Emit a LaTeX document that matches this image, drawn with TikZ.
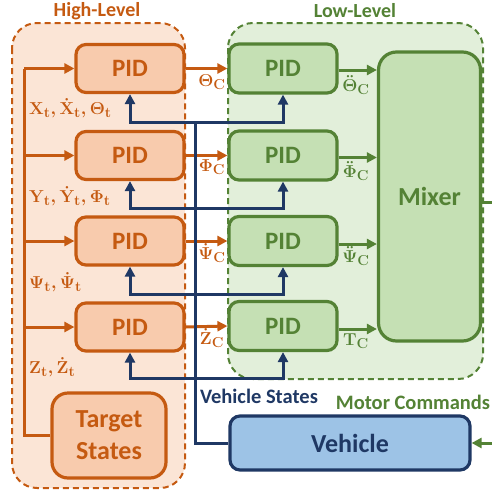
\documentclass[tikz,border=0pt]{standalone}
\usepackage{fontspec}
\setmainfont{Carlito}
\usetikzlibrary{arrows.meta}
\DeclareMathSizes{17}{17}{14}{11}
\DeclareMathSizes{18}{18}{15.5}{12}
\definecolor{ora}{HTML}{C55A11}
\definecolor{orafill}{HTML}{F8CBAD}
\definecolor{oragrp}{HTML}{FBE5D6}
\definecolor{grn}{HTML}{548235}
\definecolor{grnfill}{HTML}{C5E0B4}
\definecolor{grngrp}{HTML}{E2EFDA}
\definecolor{nav}{HTML}{1F3864}
\definecolor{blufill}{HTML}{9DC3E6}
\newcommand{\mlab}[1]{{\boldmath$\mathbf{#1}$}}
\tikzset{
  boxfont/.style={font=\bfseries\fontsize{25}{27}\selectfont},
  obox/.style={draw=ora,fill=orafill,line width=3.2pt,rounded corners=10pt,text=ora,boxfont,inner sep=0pt},
  gbox/.style={draw=grn,fill=grnfill,line width=3.2pt,rounded corners=10pt,text=grn,boxfont,inner sep=0pt},
  oline/.style={draw=ora,line width=3pt},
  oarrow/.style={oline,-{Triangle[length=10pt,width=10pt]}},
  gline/.style={draw=grn,line width=3pt},
  garrow/.style={gline,-{Triangle[length=10pt,width=10pt]}},
  nline/.style={draw=nav,line width=3pt},
  narrow/.style={nline,-{Triangle[length=10pt,width=10pt]}},
  olab/.style={text=ora,font=\fontsize{17}{19}\selectfont,inner sep=0pt},
  clab/.style={font=\fontsize{18}{20}\selectfont,inner sep=0pt},
  grptitle/.style={font=\bfseries\fontsize{20}{22}\selectfont,inner sep=0pt},
  bigtext/.style={font=\bfseries\fontsize{20.5}{22}\selectfont,inner sep=0pt},
}
\begin{document}
\begin{tikzpicture}[x=1pt,y=-1pt]
\useasboundingbox (0,0) rectangle (492,490);
% groups
\draw[ora,fill=oragrp,line width=2pt,dash pattern=on 6pt off 4pt,rounded corners=25pt] (12,23) rectangle (185,488);
\draw[grn,fill=grngrp,line width=2pt,dash pattern=on 6pt off 4pt,rounded corners=25pt] (228,23) rectangle (483,379);
\node[grptitle,text=ora] (thigh) at (97,11) {High-Level};
\node[grptitle,text=grn] (tlow) at (355,11) {Low-Level};
% orange PIDs
\node[obox,minimum width=108pt,minimum height=48pt] (o1) at (130,68.5) {PID};
\node[obox,minimum width=108pt,minimum height=48pt] (o2) at (130,155.5) {PID};
\node[obox,minimum width=108pt,minimum height=48pt] (o3) at (130,241) {PID};
\node[obox,minimum width=108pt,minimum height=48pt] (o4) at (130,327) {PID};
% green PIDs
\node[gbox,minimum width=108pt,minimum height=49pt] (g1) at (283,68.5) {PID};
\node[gbox,minimum width=108pt,minimum height=49pt] (g2) at (283,155.5) {PID};
\node[gbox,minimum width=108pt,minimum height=49pt] (g3) at (283,241) {PID};
\node[gbox,minimum width=108pt,minimum height=49pt] (g4) at (283,326) {PID};
% mixer
\node[gbox,rounded corners=18pt,minimum width=102pt,minimum height=289pt,font=\bfseries\fontsize{26}{28}\selectfont] (mix) at (429.5,196.5) {Mixer};
% target states
\node[obox,rounded corners=16pt,minimum width=114pt,minimum height=85pt,align=center,font=\bfseries\fontsize{26}{32}\selectfont] (tgt) at (109,435.5) {Target\\States};
% vehicle
\node[draw=nav,fill=blufill,line width=3.2pt,rounded corners=10pt,text=nav,font=\bfseries\fontsize{26}{28}\selectfont,minimum width=240pt,minimum height=54pt] (veh) at (350,443) {Vehicle};
% orange bus
\coordinate (ob1) at (24,68.5);
\coordinate (ob2) at (24,155.5);
\coordinate (ob3) at (24,241);
\coordinate (ob4) at (24,327);
\draw[oline] (tgt.west) -| (ob1);
\draw[oarrow] (ob1) -- (o1.west);
\draw[oarrow] (ob2) -- (o2.west);
\draw[oarrow] (ob3) -- (o3.west);
\draw[oarrow] (ob4) -- (o4.west);
% orange to green
\draw[oarrow] (o1.east) -- (g1.west);
\draw[oarrow] (o2.east) -- (g2.west);
\draw[oarrow] (o3.east) -- (g3.west);
\draw[oarrow] (o4.east) -- (g4.west);
% green to mixer
\draw[garrow] ([yshift=-1.5pt]g1.east) -- ([yshift=-1.5pt]g1.east -| mix.west);
\draw[garrow] ([yshift=-2pt]g2.east) -- ([yshift=-2pt]g2.east -| mix.west);
\draw[garrow] ([yshift=-3pt]g3.east) -- ([yshift=-3pt]g3.east -| mix.west);
\draw[garrow] ([yshift=-3pt]g4.east) -- ([yshift=-3pt]g4.east -| mix.west);
% navy feedback
\coordinate (nb1) at (195,122);
\coordinate (nb2) at (195,208);
\coordinate (nb3) at (195,294);
\coordinate (nb4) at (195,378);
\draw[nline] (veh.west) -| (nb1);
\draw[narrow] (nb1) -| (o1.south);
\draw[narrow] (nb1) -| (g1.south);
\draw[narrow] (nb2) -| (o2.south);
\draw[narrow] (nb2) -| (g2.south);
\draw[narrow] (nb3) -| (o3.south);
\draw[narrow] (nb3) -| (g3.south);
\draw[narrow] (nb4) -| (o4.south);
\draw[narrow] (nb4) -| (g4.south);
% mixer output to vehicle
\coordinate (mo) at (481,202);
\coordinate (mc) at (497,202);
\coordinate (vc) at (497,443);
\draw[gline] (mo) -- (mc);
\draw[garrow] (vc) -- (veh.east);
% labels
\node[olab,anchor=west] (lx) at (29,108) {\mlab{X_t, \dot{X}_t, \Theta_t}};
\node[olab,anchor=west] (ly) at (29,196) {\mlab{Y_t, \dot{Y}_t, \Phi_t}};
\node[olab,anchor=west] (lp) at (29,282) {\mlab{\Psi_t, \dot{\Psi}_t}};
\node[olab,anchor=west] (lz) at (29,367) {\mlab{Z_t, \dot{Z}_t}};
\node[clab,text=ora] (c1) at (212,82) {\mlab{\Theta_C}};
\node[clab,text=ora] (c2) at (212,167) {\mlab{\Phi_C}};
\node[clab,text=ora] (c3) at (212,253) {\mlab{\dot{\Psi}_C}};
\node[clab,text=ora] (c4) at (212,338) {\mlab{\dot{Z}_C}};
\node[clab,text=grn] (d1) at (356,85) {\mlab{\ddot{\Theta}_C}};
\node[clab,text=grn] (d2) at (356,171) {\mlab{\ddot{\Phi}_C}};
\node[clab,text=grn] (d3) at (356,256) {\mlab{\ddot{\Psi}_C}};
\node[clab,text=grn] (d4) at (356,341) {\mlab{T_C}};
\node[bigtext,text=nav] (vs) at (259,396) {Vehicle States};
\node[bigtext,text=grn] (mcl) at (413,402) {Motor Commands};
\end{tikzpicture}
\end{document}
